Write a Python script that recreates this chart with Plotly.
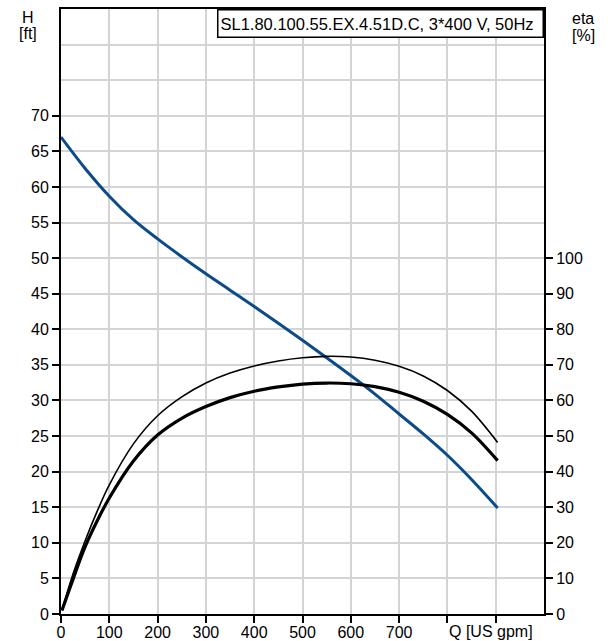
import plotly.graph_objects as go

# ---- data ----
q_head = [0, 50, 100, 150, 200, 250, 300, 350, 400, 450, 500, 550, 600, 650, 700, 750, 800, 850, 904]
head_ft = [67.0, 62.6, 58.7, 55.4, 52.7, 50.2, 47.8, 45.5, 43.2, 40.85, 38.45, 36.0, 33.5, 30.9, 28.1, 25.3, 22.3, 18.9, 14.9]

q_eta = [2, 25, 50, 75, 100, 150, 200, 250, 300, 350, 400, 450, 500, 550, 600, 650, 700, 750, 800, 850, 904]
eta_thin = [1, 11.3, 20.6, 28.9, 36.3, 47.8, 55.7, 61.0, 64.9, 67.7, 69.7, 71.1, 72.0, 72.4, 72.2, 71.3, 69.6, 66.9, 62.8, 57.0, 48.2]
eta_thick = [1, 9.8, 18.9, 26.2, 32.6, 43.0, 50.3, 55.0, 58.3, 60.8, 62.6, 63.8, 64.6, 64.9, 64.7, 63.9, 62.3, 59.8, 56.1, 50.9, 43.1]

x_ticks = [0, 100, 200, 300, 400, 500, 600, 700, 800, 900]
x_ticktext = ["0", "100", "200", "300", "400", "500", "600", "700", "", ""]
h_ticks = [0, 5, 10, 15, 20, 25, 30, 35, 40, 45, 50, 55, 60, 65, 70]
h_minor_grid = [75, 80]
eta_ticks = [0, 10, 20, 30, 40, 50, 60, 70, 80, 90, 100]

title_text = "SL1.80.100.55.EX.4.51D.C, 3*400 V, 50Hz"

FONT = "Arial, 'Liberation Sans', Helvetica, sans-serif"
GRID = "#d2d4d6"

fig = go.Figure()
fig.add_trace(go.Scatter(x=q_eta, y=eta_thin, mode="lines", yaxis="y2",
                         line=dict(color="black", width=1.6, shape="spline", smoothing=1),
                         showlegend=False, hoverinfo="skip"))
fig.add_trace(go.Scatter(x=q_eta, y=eta_thick, mode="lines", yaxis="y2",
                         line=dict(color="black", width=3.2, shape="spline", smoothing=1),
                         showlegend=False, hoverinfo="skip"))
fig.add_trace(go.Scatter(x=q_head, y=head_ft, mode="lines",
                         line=dict(color="#0c4b8a", width=3, shape="spline", smoothing=1),
                         showlegend=False, hoverinfo="skip"))

W, H = 608, 641
ml, mr, mt, mb = 61, 64, 9, 27
pw, ph = W - ml - mr, H - mt - mb

def px_x(px):
    return (px - ml) / pw

def px_y(py):
    return (H - mb - py) / ph

fig.update_layout(
    width=W, height=H, autosize=False,
    margin=dict(l=ml, r=mr, t=mt, b=mb, pad=0, autoexpand=False),
    paper_bgcolor="white", plot_bgcolor="white",
    font=dict(family=FONT, size=16, color="black"),
    xaxis=dict(range=[0, 1000], tickvals=x_ticks, ticktext=x_ticktext,
               showgrid=True, gridcolor=GRID, gridwidth=1.5, automargin=False,
               showline=True, linecolor="black", linewidth=2, mirror=True,
               ticks="outside", ticklen=7, tickwidth=2, tickcolor="black",
               ticklabelstandoff=-4,
               zeroline=False, tickfont=dict(size=16)),
    yaxis=dict(range=[0, 85], tickvals=h_ticks, automargin=False,
               showgrid=True, gridcolor=GRID, gridwidth=1.5,
               minor=dict(tickvals=h_minor_grid, showgrid=True, gridcolor=GRID,
                          gridwidth=1.5, ticks=""),
               showline=True, linecolor="black", linewidth=2, mirror=True,
               ticks="outside", ticklen=7, tickwidth=2, tickcolor="black",
               zeroline=False, tickfont=dict(size=16)),
    yaxis2=dict(range=[0, 170], tickvals=eta_ticks, overlaying="y", side="right",
                showgrid=False, showline=True, linecolor="black", linewidth=2,
                automargin=False,
                ticks="outside", ticklen=7, tickwidth=2, tickcolor="black",
                zeroline=False, tickfont=dict(size=16)),
)

ann = [
    dict(text="H", x=px_x(28), y=px_y(17.5)),
    dict(text="[ft]", x=px_x(28), y=px_y(34)),
    dict(text="eta", x=px_x(583), y=px_y(18.5)),
    dict(text="[%]", x=px_x(583), y=px_y(35)),
]
for a in ann:
    fig.add_annotation(xref="paper", yref="paper", showarrow=False,
                       xanchor="center", yanchor="middle",
                       font=dict(size=16, family=FONT, color="black"), **a)

fig.add_annotation(text="Q [US gpm]", xref="x", yref="paper", x=800, y=px_y(631),
                   xanchor="left", yanchor="middle", showarrow=False,
                   font=dict(size=16, family=FONT, color="black"))

fig.add_annotation(text=title_text, xref="paper", yref="paper", x=1, y=1,
                   xanchor="right", yanchor="top", showarrow=False, align="left",
                   width=320, height=22, borderpad=2, borderwidth=1.5,
                   bordercolor="black", bgcolor="white",
                   font=dict(size=16.5, family=FONT, color="black"))

fig.write_html("out.html", config={"displayModeBar": False},
               post_script="document.body.style.margin='0';document.body.style.padding='0';")
